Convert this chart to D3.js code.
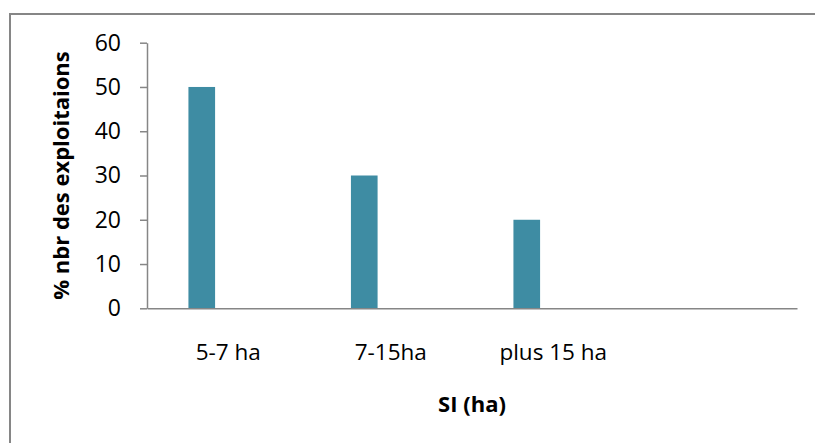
<!DOCTYPE html>
<html>
<head>
<meta charset="utf-8">
<script src="https://cdn.jsdelivr.net/npm/d3@7"></script>
<style>
  html, body { margin: 0; padding: 0; background: #fff; }
  svg { display: block; }
  .tick text { font-family: "Open Sans", sans-serif; fill: #000; }
</style>
</head>
<body>
<svg id="chart" width="815" height="443"></svg>
<script>
// Categories (the last slot is an empty category on the axis)
const categories = ["5-7 ha", "7-15ha", "plus 15 ha", ""];
// % of farms in each size class
const values = [50, 30, 20, null];
// Y axis tick values
const yTicks = [0, 10, 20, 30, 40, 50, 60];

const W = 815, H = 443;
const plot = { left: 147, right: 797, top: 42.7, bottom: 308.3 };
const axisColor = "#868686";
const barColor = "#3e8ca3";

const svg = d3.select("#chart");

// frame edges of the chart area (top and left)
svg.append("path")
  .attr("d", `M10,${H + 2}V14H${W + 2}`)
  .attr("fill", "none")
  .attr("stroke", axisColor)
  .attr("stroke-width", 2);

// category scale for the labels
const x = d3.scaleBand()
  .domain(categories)
  .range([plot.left, plot.right])
  .padding(0);

// bar placement inside each category slot
const xBar = d3.scaleBand()
  .domain(categories)
  .range([plot.left, plot.right])
  .paddingInner(0.836)
  .paddingOuter(0.418)
  .align(0.305);

const y = d3.scaleLinear()
  .domain([0, 60])
  .range([plot.bottom, plot.top]);

// bars
svg.append("g")
  .selectAll("rect")
  .data(categories.map((c, i) => ({ c, v: values[i] })).filter(d => d.v != null))
  .join("rect")
  .attr("x", d => xBar(d.c))
  .attr("width", xBar.bandwidth())
  .attr("y", d => y(d.v))
  .attr("height", d => y(0) - y(d.v))
  .attr("fill", barColor);

// y axis
const yAxis = svg.append("g")
  .attr("transform", `translate(${plot.left},0)`)
  .call(d3.axisLeft(y).tickValues(yTicks).tickSize(7).tickSizeOuter(0).tickPadding(19));
yAxis.select(".domain").attr("stroke", axisColor).attr("stroke-width", 1.5);
yAxis.selectAll(".tick line").attr("stroke", axisColor).attr("stroke-width", 1.5);
yAxis.selectAll(".tick text").attr("font-size", 23);

// x axis
const xAxis = svg.append("g")
  .attr("transform", `translate(0,${plot.bottom})`)
  .call(d3.axisBottom(x).tickSize(0).tickSizeOuter(0).tickPadding(36));
xAxis.select(".domain").attr("stroke", axisColor).attr("stroke-width", 1.5);
xAxis.selectAll(".tick text").attr("font-size", 22.5);

// axis titles
svg.append("text")
  .attr("transform", `translate(69,${(plot.top + plot.bottom) / 2}) rotate(-90)`)
  .attr("text-anchor", "middle")
  .attr("font-family", "'Open Sans', sans-serif")
  .attr("font-weight", "bold")
  .attr("font-size", 22)
  .text("% nbr des exploitaions");

svg.append("text")
  .attr("x", (plot.left + plot.right) / 2)
  .attr("y", 412)
  .attr("text-anchor", "middle")
  .attr("font-family", "'Open Sans', sans-serif")
  .attr("font-weight", "bold")
  .attr("font-size", 22)
  .text("SI (ha)");
</script>
</body>
</html>
